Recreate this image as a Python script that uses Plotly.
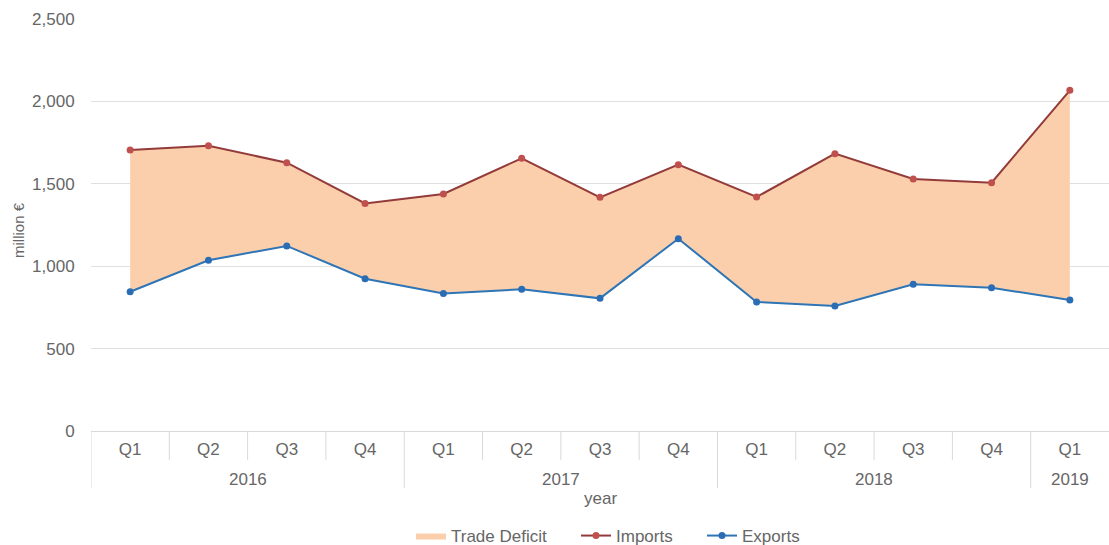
import plotly.graph_objects as go

years = ["2016"] * 4 + ["2017"] * 4 + ["2018"] * 4 + ["2019"]
quarters = ["Q1", "Q2", "Q3", "Q4"] * 3 + ["Q1"]
imports = [1705, 1731, 1628, 1381, 1438, 1655, 1418, 1616, 1420, 1683, 1529, 1507, 2067]
exports = [845, 1036, 1123, 924, 835, 860, 805, 1167, 783, 758, 890, 869, 795]

idx = list(range(len(quarters)))
FONT = "Liberation Sans, Arial, sans-serif"
GREY = "#666666"
LINE = "#d9d9d9"

W, H = 1109, 545
ML, MR, MT, MB = 91, 0, 19, 114
PH = H - MT - MB
PW = W - ML - MR


def py(px_below_axis):
    """paper y for a pixel offset below the x axis line"""
    return -px_below_axis / PH


fig = go.Figure()
fig.add_trace(go.Scatter(x=idx, y=exports, mode="lines", line=dict(width=0),
                         showlegend=False, hoverinfo="skip"))
fig.add_trace(go.Scatter(x=idx, y=imports, mode="lines", line=dict(width=0),
                         fill="tonexty", fillcolor="#fbcfac", name="Trade Deficit",
                         legend="legend"))
fig.add_trace(go.Scatter(x=idx, y=imports, mode="lines+markers", name="Imports",
                         line=dict(color="#933b3a", width=2),
                         marker=dict(color="#c0504d", size=7), legend="legend2"))
fig.add_trace(go.Scatter(x=idx, y=exports, mode="lines+markers", name="Exports",
                         line=dict(color="#2e75b6", width=2),
                         marker=dict(color="#2a6db4", size=7), legend="legend3"))

shapes = []
annotations = []
groups = []
for i, yr in enumerate(years):
    if not groups or groups[-1][0] != yr:
        groups.append([yr, i, i])
    else:
        groups[-1][2] = i
for yr, a, b in groups:
    shapes.append(dict(type="line", xref="x", yref="paper", x0=a - 0.5, x1=a - 0.5,
                       y0=0, y1=py(57), line=dict(color=LINE, width=1)))
    for k in range(a + 1, b + 1):
        shapes.append(dict(type="line", xref="x", yref="paper", x0=k - 0.5, x1=k - 0.5,
                           y0=0, y1=py(29), line=dict(color=LINE, width=1)))
    annotations.append(dict(text=yr, xref="x", yref="paper", x=(a + b) / 2, y=py(48),
                            showarrow=False, xanchor="center", yanchor="middle",
                            font=dict(size=17, color=GREY)))
annotations.append(dict(text="year", xref="paper", yref="paper", x=0.5, y=py(67),
                        showarrow=False, xanchor="center", yanchor="middle",
                        font=dict(size=17, color=GREY)))
annotations.append(dict(text="million €", xref="paper", yref="paper",
                        x=(18 - ML) / PW, y=(H - MB - 230) / PH, textangle=-90,
                        showarrow=False, xanchor="center", yanchor="middle",
                        font=dict(size=15, color=GREY)))


def leg(text_start_px):
    return dict(orientation="h", xref="container", yref="container",
                x=(text_start_px - 40) / W, xanchor="left", y=(H - 536) / H, yanchor="middle",
                font=dict(size=17, color=GREY), bgcolor="rgba(0,0,0,0)")


fig.update_layout(
    width=W, height=H,
    margin=dict(l=ML, r=MR, t=MT, b=MB),
    paper_bgcolor="white", plot_bgcolor="white",
    font=dict(family=FONT, size=17, color=GREY),
    shapes=shapes, annotations=annotations,
    legend=leg(451), legend2=leg(616), legend3=leg(742),
    xaxis=dict(range=[-0.5, len(idx) - 0.5], tickmode="array", tickvals=idx, ticktext=quarters,
               showgrid=False, zeroline=False, showline=True, linecolor=LINE,
               ticks="outside", ticklen=3, tickcolor="rgba(0,0,0,0)",
               tickfont=dict(size=17, color=GREY), automargin=False),
    yaxis=dict(range=[0, 2500], dtick=500, tickformat=",", showgrid=True,
               gridcolor="#e0e0e0", zeroline=False, showline=False,
               ticks="outside", ticklen=12, tickcolor="rgba(0,0,0,0)",
               tickfont=dict(size=17, color=GREY), automargin=False),
)

fig.write_html("out.html", config={"displayModeBar": False},
               post_script="document.body.style.margin='0';")
